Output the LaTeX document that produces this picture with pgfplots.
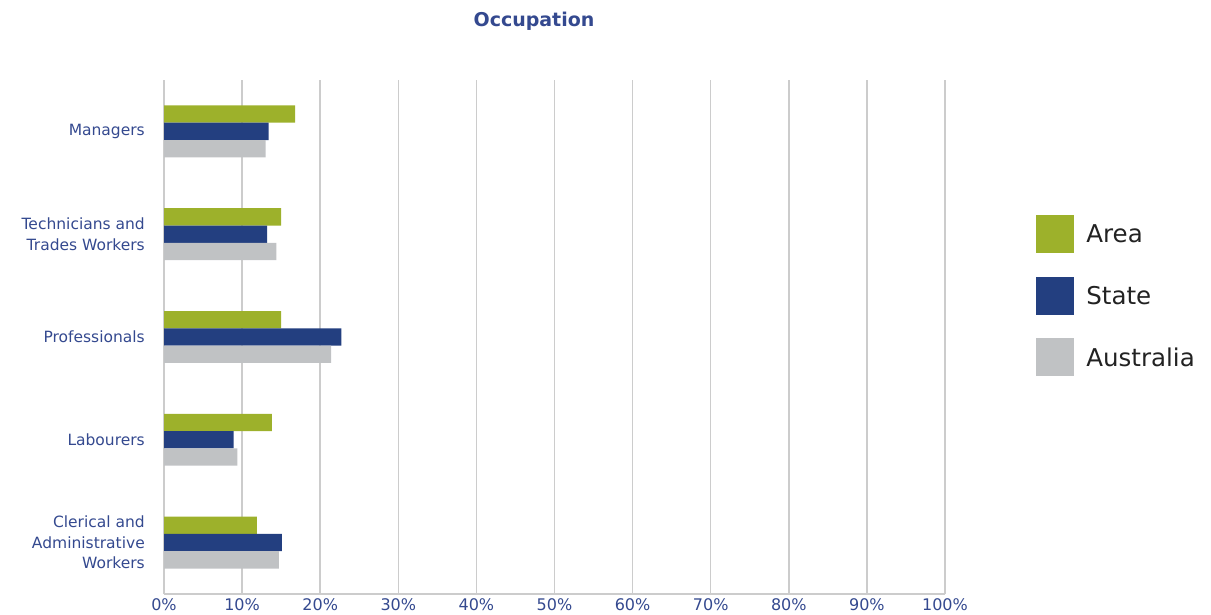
\documentclass[border=0pt]{standalone}
\usepackage{pgfplots}
\pgfplotsset{compat=1.18}
\usepackage{fontspec}
\setmainfont{DejaVu Sans}
\definecolor{areac}{HTML}{9DB12B}
\definecolor{statec}{HTML}{233F80}
\definecolor{ausc}{HTML}{C0C2C4}
\definecolor{lblc}{HTML}{34498F}
\definecolor{gridc}{HTML}{CCCCCC}
\definecolor{legtext}{HTML}{222222}
\begin{document}
\begin{tikzpicture}[x=1pt,y=1pt]
\path[use as bounding box] (0,0) rectangle (1211,615);
\begin{axis}[
  at={(164pt,21pt)}, anchor=south west,
  scale only axis, width=781pt, height=514pt,
  xmin=0, xmax=100, ymin=-0.5, ymax=4.5,
  xbar, bar width=17.3pt,
  /pgf/number format/assume math mode=true,
  xtick={0,10,...,100},
  xticklabel={\pgfmathprintnumber{\tick}\%},
  ytick={0,1,2,3,4},
  yticklabels={{Clerical and\\Administrative\\Workers},Labourers,Professionals,{Technicians and\\Trades Workers},Managers},
  major tick length=0pt,
  xmajorgrids, grid style={gridc, line width=1.5pt},
  axis x line*=bottom, axis y line*=left,
  axis line style={gridc, line width=1.5pt, -},
  xticklabel style={font=\fontsize{16}{19}\selectfont, text=lblc, anchor=north, inner sep=0pt, yshift=-4pt},
  yticklabel style={font=\fontsize{15.5}{20.5}\selectfont, text=lblc, align=right, anchor=east, inner sep=0pt, xshift=-19pt},
  legend style={at={(1.1161,0.5807)}, anchor=west, draw=none, fill=none,
    font=\fontsize{24.5}{29}\selectfont, text=legtext, row sep=23.7pt,
    inner sep=0pt, outer sep=0pt, column sep=12.7pt, nodes={inner sep=0pt}},
  legend cell align=left,
  legend image code/.code={\fill[#1] (0pt,-18.1pt) rectangle (38pt,19.9pt);},
]
\addplot[fill=areac, draw=none, bar shift=17.3pt] coordinates {(11.9,0) (13.8,1) (15.0,2) (15.0,3) (16.8,4)};
\addplot[fill=statec, draw=none, bar shift=0pt] coordinates {(15.1,0) (8.9,1) (22.7,2) (13.2,3) (13.4,4)};
\addplot[fill=ausc, draw=none, bar shift=-17.3pt] coordinates {(14.7,0) (9.4,1) (21.4,2) (14.4,3) (13.0,4)};
\legend{Area,State,Australia}
\end{axis}
\node[font=\fontsize{19}{23}\selectfont\bfseries, text=lblc, anchor=base, inner sep=0pt] at (534,588.5) {Occupation};
\end{tikzpicture}
\end{document}
